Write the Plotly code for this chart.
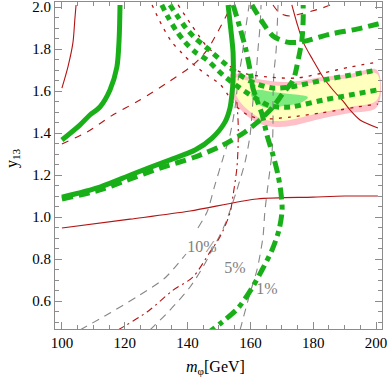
import plotly.graph_objects as go

# contour curves (x = m_phi in GeV, y = y13)
redSolidLeftX = [100.0, 101.9, 103.5, 104.1, 104.5]
redSolidLeftY = [1.614, 1.714, 1.829, 1.938, 2.01]

greenSolidLeftX = [100.0, 105.7, 108.9, 112.1, 115.3, 117.5, 118.2, 118.5]
greenSolidLeftY = [1.367, 1.438, 1.486, 1.524, 1.605, 1.714, 1.843, 2.01]

redDashedX = [100.0, 108.0, 116.2, 124.8, 133.4, 141.7, 146.2, 149.4, 152.9, 153.8]
redDashedY = [1.348, 1.405, 1.486, 1.557, 1.638, 1.724, 1.795, 1.876, 1.976, 2.01]

redDashedTopX = [167.2, 169.4, 172.6, 175.8, 179.6, 182.8, 185.4]
redDashedTopY = [2.01, 1.971, 1.957, 1.967, 1.981, 1.995, 2.01]

greenSolidX = [100.0, 112.1, 122.6, 133.4, 142.4, 147.8, 151.9, 153.5, 154.1, 154.5, 154.5, 153.8, 152.9]
greenSolidY = [1.095, 1.143, 1.205, 1.267, 1.319, 1.376, 1.452, 1.519, 1.581, 1.652, 1.781, 1.890, 2.01]

greenDashedX = [100.0, 112.1, 120.7, 131.2, 142.4, 151.3, 158.3, 163.7, 167.2, 170.4, 173.6, 175.2, 176.4, 176.8, 176.8]
greenDashedY = [1.086, 1.129, 1.176, 1.233, 1.286, 1.343, 1.405, 1.471, 1.524, 1.590, 1.652, 1.748, 1.843, 1.938, 2.01]

greenDashedTopX = [160.5, 164.0, 167.2, 171.7, 175.8, 185.4, 193.9, 200.6, 202.0]
greenDashedTopY = [2.01, 1.924, 1.862, 1.833, 1.833, 1.871, 1.895, 1.919, 1.924]

greenDashDotX = [154.5, 156.7, 158.6, 159.9, 160.8, 162.1, 163.7, 165.3, 167.2, 168.8, 169.7, 170.1,
                 169.1, 166.9, 163.7, 160.5, 156.1, 151.0, 146.5]
greenDashDotY = [2.01, 1.900, 1.795, 1.700, 1.614, 1.557, 1.490, 1.390, 1.295, 1.200, 1.119, 1.033,
                 0.938, 0.843, 0.748, 0.662, 0.567, 0.500, 0.448]

greenDotUpperX = [134.4, 137.0, 139.5, 142.4, 146.2, 151.3, 156.7, 162.1, 167.2, 172.6, 183.1, 191.7, 200.3]
greenDotUpperY = [2.01, 1.952, 1.900, 1.852, 1.805, 1.738, 1.676, 1.633, 1.614, 1.619, 1.652, 1.676, 1.700]
greenDotLowerX = [131.8, 133.8, 136.3, 139.2, 142.4, 146.2, 151.3, 156.7, 162.1, 166.2, 172.6, 183.1, 191.7, 200.3]
greenDotLowerY = [2.01, 1.952, 1.890, 1.833, 1.786, 1.748, 1.676, 1.614, 1.562, 1.529, 1.524, 1.557, 1.581, 1.605]

redDotUpperX = [137.0, 140.8, 143.9, 146.5, 148.7, 152.9, 157.6, 165.3, 174.8, 183.1, 191.7, 200.6]
redDotUpperY = [2.01, 1.924, 1.857, 1.805, 1.781, 1.724, 1.686, 1.667, 1.662, 1.686, 1.714, 1.738]
redDotLowerX = [128.7, 131.8, 135.0, 138.2, 141.4, 146.2, 150.3, 152.9, 155.4, 159.2, 163.7, 172.6, 182.2, 188.5, 193.9, 200.6]
redDotLowerY = [2.01, 1.914, 1.833, 1.781, 1.733, 1.676, 1.633, 1.581, 1.529, 1.486, 1.467, 1.476, 1.495, 1.510, 1.524, 1.538]

redSolidRightX = [173.2, 174.8, 176.8, 179.9, 183.1, 186.3, 189.5, 191.7, 194.9, 200.6]
redSolidRightY = [2.01, 1.924, 1.833, 1.748, 1.667, 1.605, 1.552, 1.510, 1.462, 1.424]

redSolidFlatX = [100.0, 121.7, 140.8, 162.1, 179.9, 190.1, 200.6]
redSolidFlatY = [0.948, 0.990, 1.029, 1.086, 1.095, 1.100, 1.100]

redDashDotX = [117.8, 127.1, 135.4, 141.7, 147.1, 150.3, 153.5, 154.5, 155.7, 156.1, 156.1, 155.7]
redDashDotY = [0.462, 0.548, 0.652, 0.714, 0.833, 0.905, 1.019, 1.105, 1.233, 1.343, 1.452, 1.548]

# fine-tuning contours (gray), with their labels
gray10X = [105.7, 115.3, 124.8, 132.8, 139.5, None, 143.3, 146.2, 148.7, 151.3, 153.5, 155.1, 156.1, 157.3, 158.3, 159.6]
gray10Y = [0.462, 0.543, 0.629, 0.710, 0.824, None, 0.948, 1.024, 1.152, 1.281, 1.390, 1.519, 1.652, 1.762, 1.876, 2.01]
gray5X = [128.0, 134.4, 140.8, 144.9, 147.8, 150.3, 152.2, 153.8, 155.7, 158.3, 159.9, 160.8, 161.8, 162.4, 163.1, 163.4]
gray5Y = [0.462, 0.557, 0.667, 0.762, 0.843, 0.914, 0.976, 1.043, 1.129, 1.262, 1.390, 1.548, 1.676, 1.795, 1.914, 2.01]
gray1X = [156.7, 159.9, 162.1, 164.0, 164.6, 165.6, 166.9, 167.2, 167.2, 167.5, 168.2, 168.5, 168.8]
gray1Y = [0.462, 0.638, 0.748, 0.905, 1.024, 1.152, 1.310, 1.438, 1.567, 1.686, 1.795, 1.890, 2.01]
labelText = ["10%", "5%", "1%"]
labelX = [144.6, 155.1, 165.3]
labelY = [0.852, 0.752, 0.652]

# filled regions
pinkX = [153.8, 162.1, 171.7, 183.1, 191.7, 200.3, 200.3, 191.7, 183.1, 172.6, 168.5, 163.1, 158.3, 155.4, 153.8]
pinkY = [1.681, 1.657, 1.643, 1.667, 1.681, 1.700, 1.524, 1.495, 1.471, 1.433, 1.429, 1.443, 1.490, 1.543, 1.605]
yellowX = [154.8, 162.1, 171.7, 183.1, 191.7, 200.3, 200.3, 191.7, 183.1, 172.6, 168.5, 163.1, 158.9, 156.1, 154.8]
yellowY = [1.662, 1.638, 1.624, 1.648, 1.662, 1.681, 1.557, 1.524, 1.500, 1.462, 1.457, 1.471, 1.514, 1.562, 1.614]
blobX = [160.2, 162.1, 167.2, 172.6, 178.3, 175.8, 170.4, 165.6, 162.4]
blobY = [1.586, 1.605, 1.595, 1.586, 1.571, 1.543, 1.529, 1.519, 1.538]

xTicks = [100, 120, 140, 160, 180, 200]
yTicks = [0.6, 0.8, 1.0, 1.2, 1.4, 1.6, 1.8, 2.0]

GREEN = "rgb(25,175,25)"
RED = "rgb(178,20,20)"
GRAY = "rgb(135,135,135)"
FONT = "Liberation Serif"

fig = go.Figure()


def fill(xs, ys, color):
    fig.add_trace(go.Scatter(x=xs, y=ys, mode="lines", fill="toself", fillcolor=color,
                             line=dict(width=0, color=color, shape="spline"), hoverinfo="skip"))


def curve(xs, ys, color, width, dash="solid"):
    fig.add_trace(go.Scatter(x=xs, y=ys, mode="lines",
                             line=dict(color=color, width=width, dash=dash, shape="spline", smoothing=0.8)))


fill(pinkX + [pinkX[0]], pinkY + [pinkY[0]], "rgb(255,192,200)")
fill(yellowX + [yellowX[0]], yellowY + [yellowY[0]], "rgb(255,255,190)")
fill(blobX + [blobX[0]], blobY + [blobY[0]], "rgb(125,235,125)")

curve(gray10X, gray10Y, GRAY, 1.1, "8px,6px")
curve(gray5X, gray5Y, GRAY, 1.1, "8px,6px")
curve(gray1X, gray1Y, GRAY, 1.1, "8px,6px")

curve(redSolidLeftX, redSolidLeftY, RED, 1.1)
curve(redSolidRightX, redSolidRightY, RED, 1.1)
curve(redSolidFlatX, redSolidFlatY, RED, 1.1)
curve(redDashedX, redDashedY, RED, 1.1, "7px,7px")
curve(redDashedTopX, redDashedTopY, RED, 1.1, "7px,7px")
curve(redDashDotX, redDashDotY, RED, 1.1, "7px,4px,2px,4px")
curve(redDotUpperX, redDotUpperY, RED, 1.3, "3px,6px")
curve(redDotLowerX, redDotLowerY, RED, 1.3, "3px,6px")

curve(greenSolidLeftX, greenSolidLeftY, GREEN, 5)
curve(greenSolidX, greenSolidY, GREEN, 5)
curve(greenDashedX, greenDashedY, GREEN, 5, "11px,6px")
curve(greenDashedTopX, greenDashedTopY, GREEN, 5, "11px,6px")
curve(greenDashDotX, greenDashDotY, GREEN, 5, "12px,5px,5px,5px")
curve(greenDotUpperX, greenDotUpperY, GREEN, 5, "6px,5px")
curve(greenDotLowerX, greenDotLowerY, GREEN, 5, "6px,5px")

fig.add_trace(go.Scatter(x=labelX, y=labelY, mode="text", text=labelText,
                         textfont=dict(family=FONT, size=16, color="rgb(128,128,128)")))

axis_common = dict(showgrid=False, zeroline=False, showline=True, linecolor="rgb(140,140,140)", linewidth=1,
                   mirror="ticks", ticks="inside", ticklen=7, tickcolor="rgb(140,140,140)", automargin=False,
                   ticklabeloverflow="allow", tickfont=dict(family=FONT, size=15, color="black"))

fig.update_layout(
    width=390, height=384,
    margin=dict(l=55, r=8, t=2, b=55),
    plot_bgcolor="white", paper_bgcolor="white",
    showlegend=False,
    xaxis=dict(range=[97.8, 201.9], tickvals=xTicks,
               minor=dict(dtick=5, tick0=100, ticks="inside", ticklen=4, tickcolor="rgb(140,140,140)"),
               **axis_common),
    yaxis=dict(range=[0.467, 2.024], tickvals=yTicks, tickformat=".1f",
               minor=dict(dtick=0.05, tick0=0.6, ticks="inside", ticklen=4, tickcolor="rgb(140,140,140)"),
               **axis_common),
    annotations=[
        dict(text="<i>m</i><sub>φ</sub>[GeV]", xref="paper", yref="paper", x=0.49, y=0,
             yanchor="middle", xanchor="center", yshift=-38, showarrow=False,
             font=dict(family=FONT, size=16, color="black")),
        dict(text="y<sub>13</sub>", xref="paper", yref="paper", x=0, y=0.523, xshift=-42,
             xanchor="center", yanchor="middle", textangle=-90, showarrow=False,
             font=dict(family=FONT, size=16, color="black")),
    ],
)

# the page body has a default 8px margin; drop it so the figure sits at the window corner
fig.write_html("out.html", config={"displayModeBar": False},
               post_script="document.body.style.margin='0';")
